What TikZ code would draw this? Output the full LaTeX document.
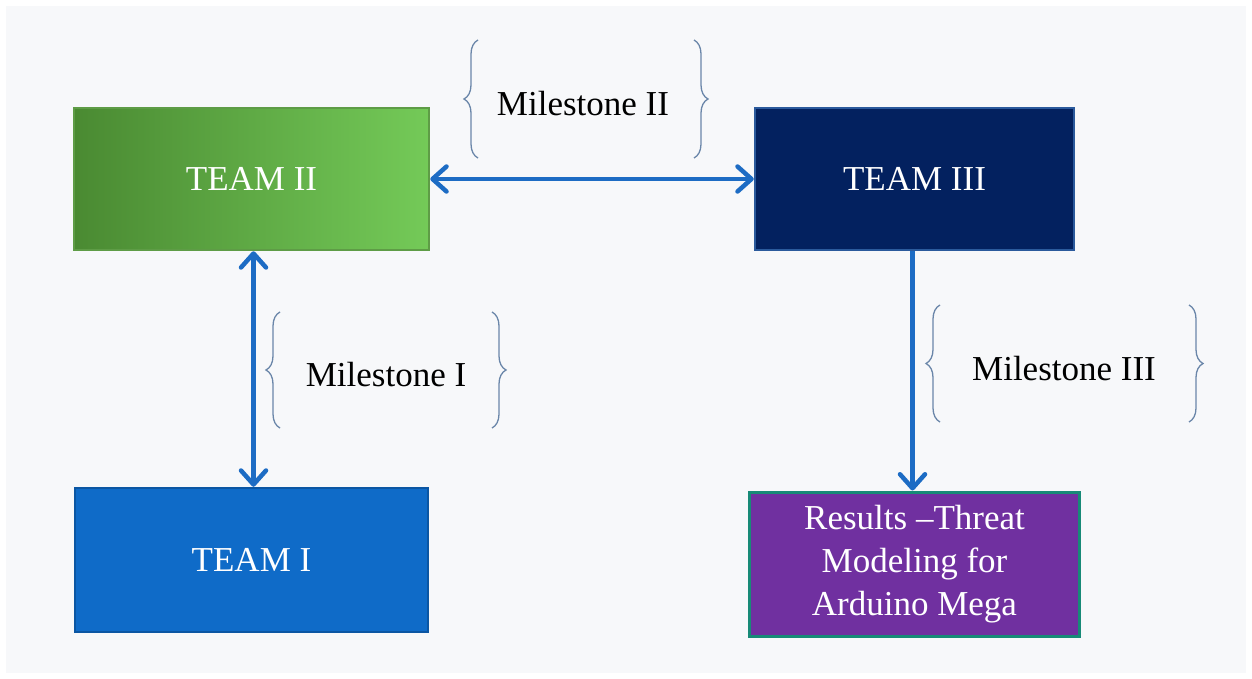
\documentclass[tikz,border=0pt]{standalone}
\usepackage{fontspec}
\setmainfont{Liberation Serif}
\usetikzlibrary{arrows.meta,decorations.pathreplacing}

\definecolor{bgpanel}{HTML}{F7F8FA}
\definecolor{linkblue}{HTML}{1D6CC4}
\definecolor{bracecol}{HTML}{6A86A9}
\definecolor{greendark}{HTML}{4A8A32}
\definecolor{greenlight}{HTML}{74CA58}
\definecolor{greenedge}{HTML}{5E9C46}
\definecolor{navyfill}{HTML}{03215F}
\definecolor{navyedge}{HTML}{2B5A9C}
\definecolor{bluefill}{HTML}{0F6BC8}
\definecolor{blueedge}{HTML}{0B56A3}
\definecolor{purplefill}{HTML}{7030A0}
\definecolor{tealedge}{HTML}{178A77}

\tikzset{
  teambox/.style={rectangle, text=white, line width=2.5pt, align=center,
    font=\fontsize{35}{43}\selectfont, inner sep=0pt},
  barb/.style={Straight Barb[length=14pt,width=25pt,line cap=round,line join=round]},
  link/.style={draw=linkblue, line width=4.5pt, arrows={-Straight Barb[length=14pt,width=25pt,line cap=round,line join=round]}},
  biglink/.style={draw=linkblue, line width=4.5pt,
    arrows={Straight Barb[length=14pt,width=25pt,line cap=round,line join=round]-Straight Barb[length=14pt,width=25pt,line cap=round,line join=round]}},
  mbrace/.style={draw=bracecol, line width=1.3pt,
    decorate, decoration={brace, amplitude=14pt}},
  mlabel/.style={font=\fontsize{35}{43}\selectfont, text=black}
}

\begin{document}
\begin{tikzpicture}[x=1pt,y=-1pt]
  \useasboundingbox (0,0) rectangle (1252,679);
  \fill[white] (0,0) rectangle (1252,679);
  \fill[bgpanel] (6,6) rectangle (1246,673);

  % team boxes
  \node[teambox, draw=greenedge, left color=greendark, right color=greenlight,
        minimum width=355pt, minimum height=142pt] (t2) at (251.5,179) {TEAM II};
  \node[teambox, draw=navyedge, fill=navyfill,
        minimum width=319pt, minimum height=142pt] (t3) at (914.5,179) {TEAM III};
  \node[teambox, draw=blueedge, fill=bluefill,
        minimum width=353pt, minimum height=144pt] (t1) at (251.5,560) {TEAM I};
  \node[teambox, draw=tealedge, line width=3pt, fill=purplefill,
        minimum width=330pt, minimum height=144pt] (res) at (914.5,564)
        {Results --Threat\\Modeling for\\Arduino Mega};

  % connectors
  \draw[biglink] (t2.east) -- (t3.west);
  \draw[biglink] ([xshift=2pt]t2.south) -- ([xshift=2pt]t1.north);
  \draw[link] ([xshift=-2pt]t3.south) -- ([xshift=-2pt]res.north);

  % milestone labels
  \node[mlabel] (m2) at (583,104) {Milestone II};
  \node[mlabel] (m1) at (386,375) {Milestone I};
  \node[mlabel] (m3) at (1064,369) {Milestone III};

  % braces around the labels
  \draw[mbrace] (478,158) -- (478,40);
  \draw[mbrace] (694,40) -- (694,158);
  \draw[mbrace] (280,428) -- (280,312);
  \draw[mbrace] (492,312) -- (492,428);
  \draw[mbrace] (940,422) -- (940,305);
  \draw[mbrace] (1189,305) -- (1189,422);
\end{tikzpicture}
\end{document}
